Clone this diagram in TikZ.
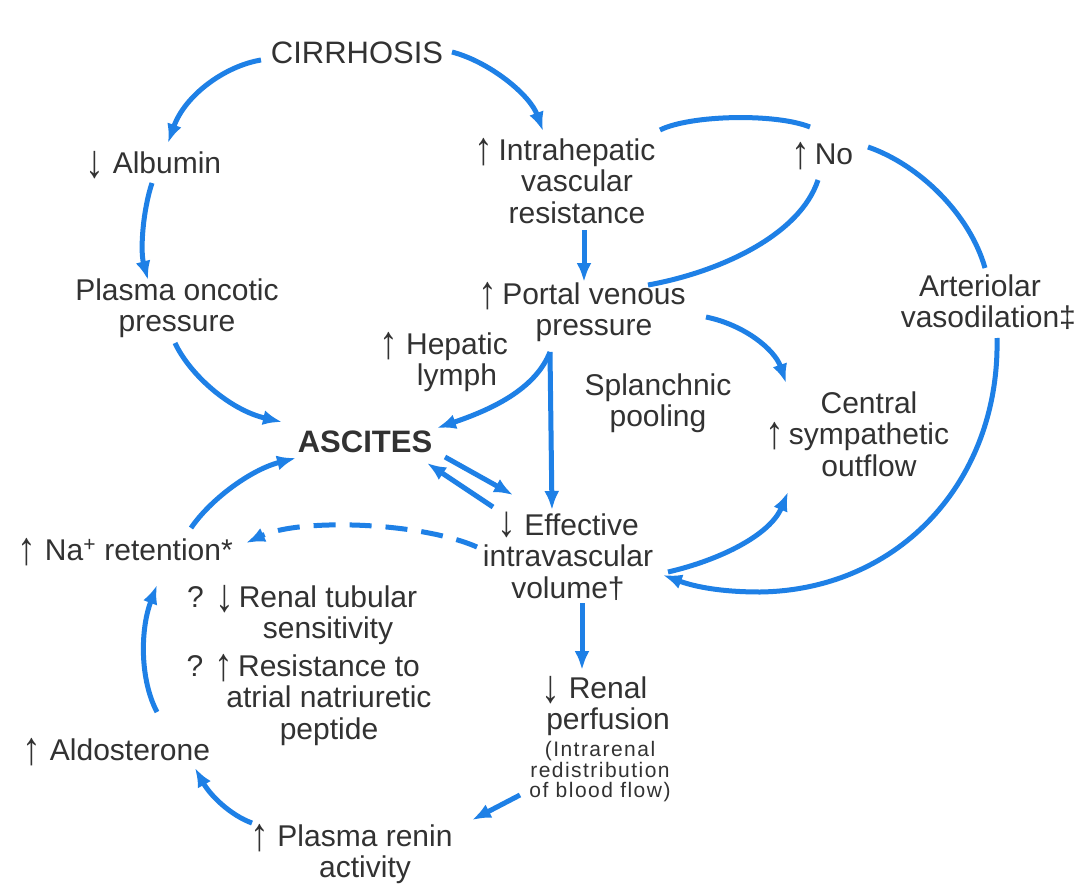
\documentclass[tikz,border=0pt]{standalone}
\usepackage{fontspec}
\usepackage{graphicx}
\setmainfont{Liberation Sans}
\usetikzlibrary{arrows.meta}
\definecolor{fblue}{RGB}{30,128,230}
\definecolor{tgray}{RGB}{50,50,50}
\newcommand{\myup}{\smash{\raisebox{-4pt}{\scalebox{1.25}[1.55]{↑}}}}
\newcommand{\mydn}{\smash{\raisebox{-4pt}{\scalebox{1.25}[1.55]{↓}}}}
\newcommand{\mydnhi}{\smash{\raisebox{-1pt}{\scalebox{1.25}[1.45]{↓}}}}
\begin{document}
\begin{tikzpicture}[x=1pt,y=-1pt,
  txt/.style={text=tgray, font=\fontsize{30}{31.5}\selectfont, align=center, inner sep=0pt},
  small/.style={text=tgray, font=\fontsize{21}{20.5}\selectfont\addfontfeatures{LetterSpace=7}, align=center, inner sep=0pt},
  big/.style={text=tgray, font=\fontsize{31}{33}\selectfont, inner sep=0pt},
  flow/.style={draw=fblue, line width=5pt, -{Latex[length=19pt,width=15pt]}},
  link/.style={draw=fblue, line width=5pt},
  dflow/.style={flow, dash pattern=on 22pt off 14pt}]
\useasboundingbox (0,0) rectangle (1082,894);
\fill[white] (0,0) rectangle (1082,894);

\node[big] (cirr) at (357,53) {CIRRHOSIS};
\node[txt] (alb) at (167,163) {\llap{\mydn\ }Albumin};
\node[txt] (intra) at (577,181) {\llap{\myup\,}Intrahepatic\\vascular\\resistance};
\node[txt] (no) at (834,154) {\llap{\myup\,}No};
\node[txt] (plasma) at (177,308) {Plasma oncotic\\pressure};
\node[txt] (portal) at (594,312) {\llap{\myup\,}Portal venous\\pressure};
\node[txt] (art) at (980,302) {Arteriolar\\vasodilation\rlap{‡}};
\node[txt] (hep) at (457,362) {\llap{\myup\ }Hepatic\\lymph};
\node[txt] (splan) at (658,403) {Splanchnic\\pooling};
\node[txt] (central) at (869,434) {Central\\\llap{\myup\,}sympathetic\\outflow};
\node[big, font=\fontsize{31}{33}\selectfont\bfseries] (asc) at (365,442) {ASCITES};
\node[txt] (eff) at (568,557) {\mydnhi\ Effective\\intravascular\\volume†};
\node[txt] (na) at (133,550) {\llap{\myup\ }Na\textsuperscript{+} retention\rlap{*}};
\node[txt] (rtub) at (328,615) {\llap{? \mydn\,}Renal tubular\\sensitivity};
\node[txt] (resist) at (329,700) {\llap{? \myup\,}Resistance to\\atrial natriuretic\\peptide};
\node[txt] (aldo) at (130,750) {\llap{\myup\ }Aldosterone};
\node[txt] (renal) at (608,706) {\llap{\mydn\ }Renal\\perfusion};
\node[small] (rnote) at (600,772) {(Intrarenal\\redistribution\\of blood flow)};
\node[txt] (renin) at (365,854) {\llap{\myup\ }Plasma renin\\activity};

% connectors
\draw[flow] ([shift={(-96,7)}]cirr.center) .. controls (225,66) and (185,95) .. ([shift={(1,-20)}]alb.center);
\draw[flow] ([shift={(95,-1)}]cirr.center) .. controls (490,62) and (530,95) .. ([shift={(-34,-50)}]intra.center);
\draw[flow] ([shift={(-15,20)}]alb.center) .. controls (143,210) and (140,250) .. ([shift={(-29,-28)}]plasma.center);
\draw[flow] ([shift={(7,49)}]intra.center) -- ([shift={(-10,-30)}]portal.center);
\draw[link] ([shift={(83,-51)}]intra.center) .. controls (690,115) and (775,113) .. ([shift={(-24,-27)}]no.center);
\draw[link] ([shift={(-16,26)}]no.center) .. controls (800,235) and (720,272) .. ([shift={(54,-27)}]portal.center);
\draw[link] ([shift={(34,-7)}]no.center) .. controls (920,165) and (970,215) .. ([shift={(5,-34)}]art.center);
\draw[flow] ([shift={(17,36)}]art.center) .. controls (1000,480) and (900,590) .. (760,592) .. controls (715,592) and (690,585) .. ([shift={(95,18)}]eff.center);
\draw[flow] ([shift={(112,5)}]portal.center) .. controls (745,325) and (775,350) .. ([shift={(-83,-51)}]central.center);
\draw[flow] ([shift={(100,15)}]eff.center) .. controls (720,560) and (770,535) .. ([shift={(-81,58)}]central.center);
\draw[flow] ([shift={(-44,40)}]portal.center) .. controls (535,390) and (490,410) .. ([shift={(72,-14)}]asc.center);
\draw[flow] ([shift={(-44,40)}]portal.center) -- ([shift={(-16,-47)}]eff.center);
\draw[flow] ([shift={(-2,35)}]plasma.center) .. controls (190,375) and (230,410) .. ([shift={(-83,-20)}]asc.center);
\draw[flow] ([shift={(80,15)}]asc.center) -- ([shift={(-55,-62)}]eff.center);
\draw[flow] ([shift={(-75,-50)}]eff.center) -- ([shift={(62,21)}]asc.center);
\draw[dflow] ([shift={(-91,-10)}]eff.center) .. controls (420,522) and (300,518) .. ([shift={(113,-7)}]na.center);
\draw[flow] ([shift={(58,-22)}]na.center) .. controls (210,500) and (250,470) .. ([shift={(-69,16)}]asc.center);
\draw[flow] ([shift={(14,46)}]eff.center) -- ([shift={(-26,-36)}]renal.center);
\draw[flow] ([shift={(-80,23)}]rnote.center) -- ([shift={(107,-34)}]renin.center);
\draw[flow] ([shift={(-113,-31)}]renin.center) .. controls (230,815) and (210,795) .. ([shift={(65,18)}]aldo.center);
\draw[flow] ([shift={(27,-38)}]aldo.center) .. controls (140,680) and (140,630) .. ([shift={(24,35)}]na.center);
\end{tikzpicture}
\end{document}
